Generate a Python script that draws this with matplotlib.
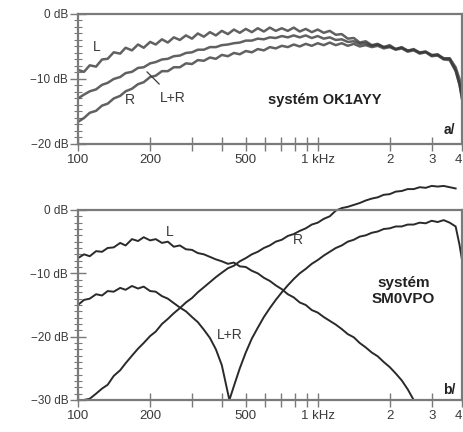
import numpy as np
import matplotlib
matplotlib.use("Agg")
import matplotlib.pyplot as plt
from matplotlib.ticker import FixedLocator, NullFormatter

plt.rcParams['font.family'] = ['Liberation Sans', 'DejaVu Sans']

# common frequency grid (Hz)
freq = [100, 106, 112, 119, 126, 133, 141, 150, 158, 168, 178, 188, 200, 211, 224, 237,
        251, 266, 282, 299, 316, 335, 355, 376, 398, 422, 447, 473, 501, 531, 562, 596,
        631, 668, 708, 750, 794, 841, 891, 944, 1000, 1059, 1122, 1189, 1259, 1334, 1413,
        1496, 1585, 1679, 1778, 1884, 1995, 2113, 2239, 2371, 2512, 2661, 2818, 2985, 3162,
        3350, 3548, 3758, 3900, 4000]

# a/ system OK1AYY
a_L = [-8.6, -8.9, -7.9, -8.1, -7.0, -6.9, -5.9, -6.1, -5.2, -5.6, -4.7, -5.2, -4.3, -4.7,
       -3.9, -4.4, -3.6, -4.0, -3.3, -3.8, -3.0, -3.5, -2.8, -3.3, -2.6, -3.1, -2.4, -2.9,
       -2.3, -2.8, -2.2, -2.7, -2.1, -2.6, -2.2, -2.6, -2.1, -2.7, -2.3, -2.8, -2.4, -2.9,
       -2.6, -3.2, -3.1, -3.8, -3.7, -4.4, -4.2, -4.8, -4.6, -5.1, -4.8, -5.4, -5.1, -5.7,
       -5.4, -6.0, -5.8, -6.4, -6.2, -6.9, -6.8, -8.2, -10.0, -12.5]
a_LR = [-13.0, -12.4, -11.9, -11.6, -10.9, -10.6, -10.0, -9.7, -9.1, -8.9, -8.3, -8.2, -7.6,
        -7.4, -7.0, -6.9, -6.5, -6.4, -6.0, -5.9, -5.5, -5.5, -5.1, -5.1, -4.8, -4.7, -4.5,
        -4.4, -4.1, -4.1, -3.8, -3.9, -3.6, -3.7, -3.4, -3.6, -3.3, -3.6, -3.3, -3.7, -3.4,
        -3.8, -3.6, -4.0, -3.9, -4.3, -4.2, -4.6, -4.5, -4.9, -4.7, -5.1, -5.0, -5.4, -5.2,
        -5.6, -5.5, -5.9, -5.8, -6.3, -6.3, -6.8, -6.9, -8.6, -10.8, -13.0]
a_R = [-16.6, -16.0, -15.2, -14.9, -14.1, -13.8, -13.0, -12.6, -11.9, -11.5, -10.8, -10.5,
       -9.7, -9.5, -8.8, -8.8, -8.2, -8.2, -7.6, -7.7, -7.1, -7.2, -6.7, -6.9, -6.3, -6.5,
       -6.0, -6.2, -5.7, -5.9, -5.4, -5.6, -5.1, -5.3, -4.9, -5.1, -4.7, -5.0, -4.6, -4.9,
       -4.5, -4.8, -4.4, -4.8, -4.5, -4.9, -4.6, -5.0, -4.8, -5.1, -4.9, -5.3, -5.1, -5.5,
       -5.3, -5.8, -5.6, -6.1, -5.9, -6.5, -6.4, -7.0, -7.1, -8.8, -10.9, -13.2]

# b/ system SM0VPO
b_L = [-7.6, -7.0, -7.3, -6.5, -6.6, -6.0, -5.9, -5.2, -5.6, -4.6, -4.9, -4.3, -4.8, -4.6,
       -5.2, -5.0, -5.8, -5.6, -6.2, -6.3, -6.8, -7.0, -7.4, -7.8, -8.1, -8.5, -8.3, -8.9,
       -9.0, -9.6, -10.0, -10.7, -11.2, -11.9, -12.5, -13.3, -13.8, -14.6, -15.0, -15.8,
       -16.2, -16.9, -17.5, -18.1, -18.8, -19.6, -20.1, -21.0, -21.7, -22.5, -23.1, -24.0,
       -24.8, -25.8, -26.9, -28.3, -30.0]
b_R = [-30.0, -30.0, -29.8, -29.0, -28.2, -27.6, -26.2, -25.3, -24.2, -23.0, -21.9, -21.0,
       -19.9, -19.2, -18.0, -17.2, -16.3, -15.5, -14.6, -13.9, -13.0, -12.2, -11.4, -10.6,
       -9.9, -9.2, -8.8, -8.1, -7.6, -7.0, -6.6, -6.0, -5.6, -5.0, -4.7, -4.1, -3.8, -3.3,
       -2.9, -2.3, -2.0, -1.4, -1.0, -0.1, 0.3, 0.5, 0.8, 1.1, 1.5, 1.8, 2.0, 2.4, 2.5,
       2.9, 3.0, 3.3, 3.3, 3.6, 3.5, 3.8, 3.7, 3.8, 3.6, 3.4]
freq_b_LR = [100, 106, 112, 119, 126, 133, 141, 150, 158, 168, 178, 188, 200, 211, 224, 237,
             251, 266, 282, 299, 316, 335, 355, 376, 398, 428, 447, 473, 501, 531, 562, 596,
             631, 668, 708, 750, 794, 841, 891, 944, 1000, 1059, 1122, 1189, 1259, 1334,
             1413, 1496, 1585, 1679, 1778, 1884, 1995, 2113, 2239, 2371, 2512, 2661, 2818,
             2985, 3162, 3350, 3548, 3758, 3900, 4000]
b_LR = [-15.0, -14.2, -14.0, -13.3, -13.5, -12.8, -12.9, -12.3, -12.6, -12.0, -12.4, -12.1,
        -12.8, -12.9, -13.6, -14.0, -14.7, -15.4, -16.0, -16.9, -17.7, -18.9, -20.2, -22.0,
        -24.5, -30.0, -27.8, -25.0, -22.5, -20.3, -18.6, -16.9, -15.5, -14.2, -13.0, -11.9,
        -10.9, -10.0, -9.3, -8.5, -7.9, -7.2, -6.6, -6.0, -5.6, -5.0, -4.7, -4.2, -4.0,
        -3.6, -3.4, -3.0, -2.9, -2.6, -2.6, -2.3, -2.3, -2.0, -2.1, -1.7, -1.9, -1.6, -2.0,
        -2.6, -5.5, -8.0]

xticks = [100, 200, 300, 400, 500, 600, 700, 800, 900, 1000, 2000, 3000, 4000]
xlabels = ['100', '200', '', '', '500', '', '', '', '', '1 kHz', '2', '3', '4']

line_col = '#2a2a2a'
frame_col = '#7a7a7a'
text_col = '#3a3a3a'

fig = plt.figure(figsize=(4.64, 4.32), dpi=100)
ax1 = fig.add_axes([0.168, 0.6667, 0.828, 0.301])
ax2 = fig.add_axes([0.168, 0.0741, 0.828, 0.4398])


def style(ax, ymin, ylabels):
    ax.set_xscale('log')
    ax.set_xlim(100, 4000)
    ax.set_ylim(ymin, 0)
    ax.xaxis.set_major_locator(FixedLocator(xticks))
    ax.xaxis.set_minor_locator(FixedLocator([]))
    ax.set_xticklabels(xlabels)
    ax.xaxis.set_minor_formatter(NullFormatter())
    ax.get_xticklabels()[-1].set_horizontalalignment('right')
    ax.set_yticks(list(range(0, ymin - 1, -10)))
    ax.set_yticklabels(ylabels)
    ax.yaxis.set_minor_locator(FixedLocator(list(range(0, ymin - 1, -1))))
    ax.tick_params(axis='x', direction='inout', length=10, width=1.0, color=frame_col,
                   labelsize=9.5, labelcolor=text_col, pad=2)
    ax.tick_params(axis='y', which='major', direction='inout', length=12, width=1.0,
                   color=frame_col, labelsize=8.5, labelcolor=text_col, pad=1)
    ax.tick_params(axis='y', which='minor', direction='inout', length=6, width=0.8,
                   color=frame_col)
    for s in ax.spines.values():
        s.set_color(frame_col)
        s.set_linewidth(1.6)


style(ax1, -20, ['0 dB', '\u221210 dB', '\u221220 dB'])
style(ax2, -30, ['0 dB', '\u221210 dB', '\u221220 dB', '\u221230 dB'])

for y in (a_L, a_LR, a_R):
    ax1.plot(freq, y, color='#3a3a3a', lw=1.8, alpha=0.8)

ax2.plot(freq[:len(b_L)], b_L, color=line_col, lw=1.4)
ax2.plot(freq[:len(b_R)], b_R, color=line_col, lw=1.4, clip_on=False)
ax2.plot(freq_b_LR, b_LR, color=line_col, lw=1.4)

tk = dict(color=text_col, fontsize=10)
ax1.text(120, -5.1, 'L', ha='center', va='center', **tk)
ax1.text(165, -13.2, 'R', ha='center', va='center', **tk)
ax1.annotate('L+R', xy=(194, -8.9), xytext=(249, -12.9), ha='center', va='center',
             arrowprops=dict(arrowstyle='-', color=text_col, lw=0.9,
                             shrinkA=4, shrinkB=0), **tk)
ax1.text(1068, -13.2, 'systém OK1AYY', ha='center', va='center', color='#222222',
         fontsize=10.5, fontweight='bold')
ax1.text(3550, -17.8, 'a/', ha='center', va='center', color='#222222', fontsize=10,
         fontweight='bold')

ax2.text(242, -3.5, 'L', ha='center', va='center', **tk)
ax2.text(829, -4.7, 'R', ha='center', va='center', **tk)
ax2.text(431, -19.7, 'L+R', ha='center', va='center', **tk)
ax2.text(2276, -12.8, 'systém\nSM0VPO', ha='center', va='center', color='#222222',
         fontsize=11, fontweight='bold', linespacing=1.15)
ax2.text(3550, -28.4, 'b/', ha='center', va='center', color='#222222', fontsize=10,
         fontweight='bold')

fig.savefig('out.png', dpi=100)
